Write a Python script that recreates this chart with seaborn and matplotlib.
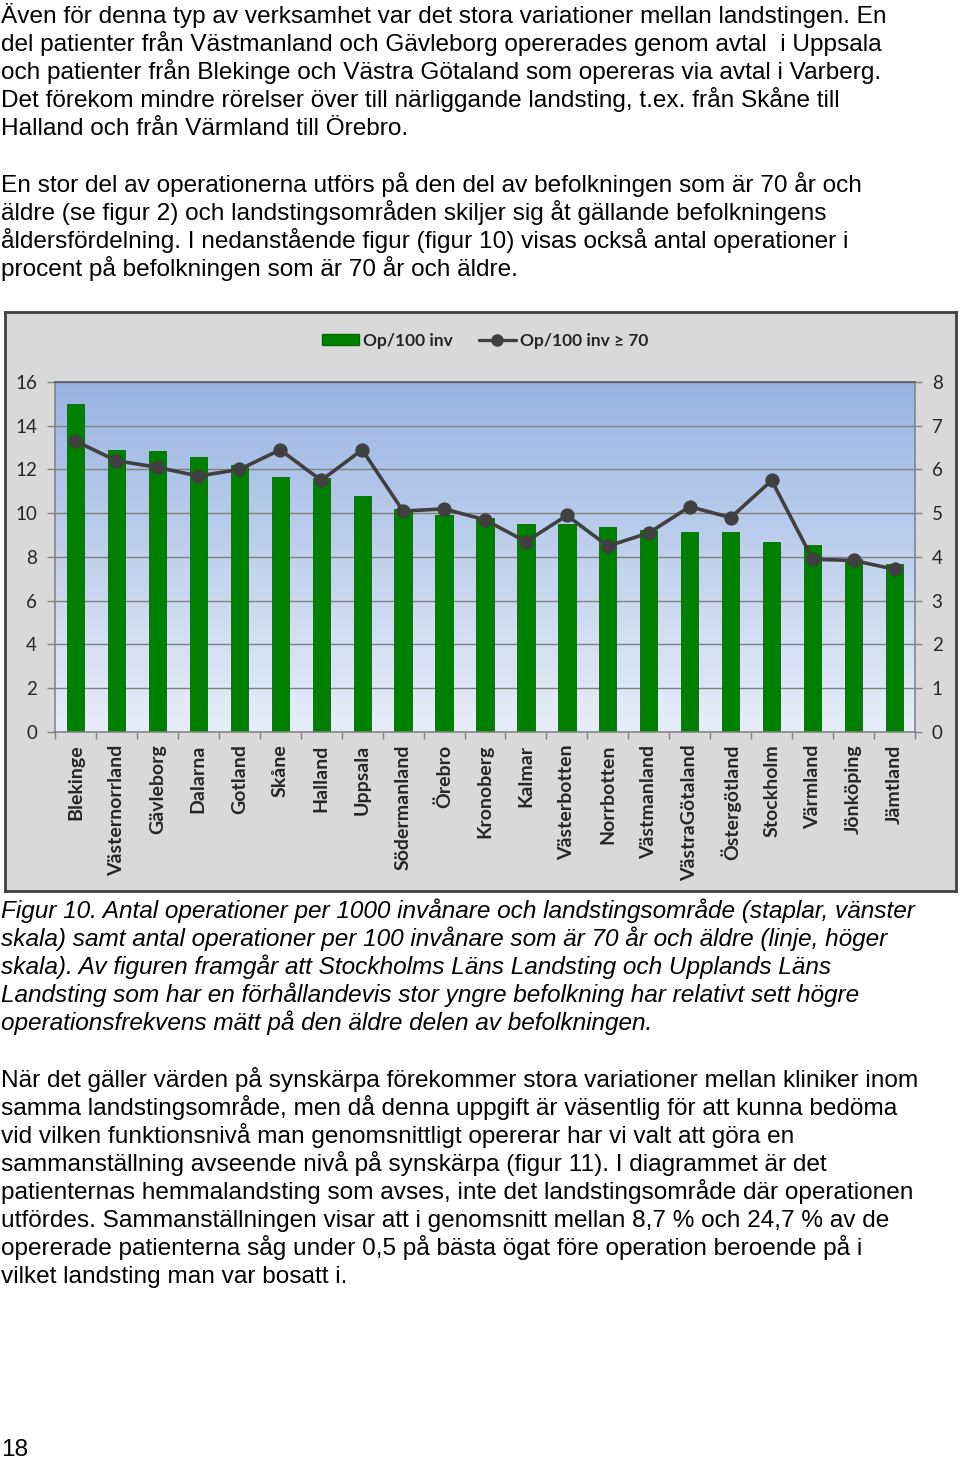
import matplotlib
matplotlib.use("Agg")
import matplotlib.pyplot as plt
import numpy as np
import seaborn as sns
from matplotlib.colors import LinearSegmentedColormap
from matplotlib.lines import Line2D
from matplotlib.patches import Patch

# data
regions = ["Blekinge", "Västernorrland", "Gävleborg", "Dalarna", "Gotland", "Skåne", "Halland",
           "Uppsala", "Södermanland", "Örebro", "Kronoberg", "Kalmar", "Västerbotten", "Norrbotten",
           "Västmanland", "VästraGötaland", "Östergötland", "Stockholm", "Värmland", "Jönköping", "Jämtland"]
op_all = [15.0, 12.9, 12.85, 12.55, 12.2, 11.65, 11.6, 10.8, 10.2, 9.9, 9.8, 9.5, 9.5, 9.35,
          9.25, 9.15, 9.15, 8.7, 8.55, 7.9, 7.7]  # Op/100 inv (left scale)
op_70 = [6.65, 6.2, 6.05, 5.85, 6.0, 6.45, 5.75, 6.45, 5.05, 5.1, 4.85, 4.35, 4.95, 4.25,
         4.55, 5.15, 4.9, 5.75, 3.95, 3.92, 3.72]  # Op/100 inv >= 70 (right scale)
left_ticks = [0, 2, 4, 6, 8, 10, 12, 14, 16]
right_ticks = [0, 1, 2, 3, 4, 5, 6, 7, 8]

p1 = ["Även för denna typ av verksamhet var det stora variationer mellan landstingen. En",
      "del patienter från Västmanland och Gävleborg opererades genom avtal  i Uppsala",
      "och patienter från Blekinge och Västra Götaland som opereras via avtal i Varberg.",
      "Det förekom mindre rörelser över till närliggande landsting, t.ex. från Skåne till",
      "Halland och från Värmland till Örebro."]
p2 = ["En stor del av operationerna utförs på den del av befolkningen som är 70 år och",
      "äldre (se figur 2) och landstingsområden skiljer sig åt gällande befolkningens",
      "åldersfördelning. I nedanstående figur (figur 10) visas också antal operationer i",
      "procent på befolkningen som är 70 år och äldre."]
caption = ["Figur 10. Antal operationer per 1000 invånare och landstingsområde (staplar, vänster",
           "skala) samt antal operationer per 100 invånare som är 70 år och äldre (linje, höger",
           "skala). Av figuren framgår att Stockholms Läns Landsting och Upplands Läns",
           "Landsting som har en förhållandevis stor yngre befolkning har relativt sett högre",
           "operationsfrekvens mätt på den äldre delen av befolkningen."]
p3 = ["När det gäller värden på synskärpa förekommer stora variationer mellan kliniker inom",
      "samma landstingsområde, men då denna uppgift är väsentlig för att kunna bedöma",
      "vid vilken funktionsnivå man genomsnittligt opererar har vi valt att göra en",
      "sammanställning avseende nivå på synskärpa (figur 11). I diagrammet är det",
      "patienternas hemmalandsting som avses, inte det landstingsområde där operationen",
      "utfördes. Sammanställningen visar att i genomsnitt mellan 8,7 % och 24,7 % av de",
      "opererade patienterna såg under 0,5 på bästa ögat före operation beroende på i",
      "vilket landsting man var bosatt i."]

sns.set_style("white")
plt.rcParams["font.family"] = ["Lato", "DejaVu Sans"]

W, H = 960, 1468
fig = plt.figure(figsize=(W / 100, H / 100), dpi=100, facecolor="white")

def px(x0, y0, x1, y1):
    return [x0 / W, 1 - y1 / H, (x1 - x0) / W, (y1 - y0) / H]

# page text
body = dict(family=["Liberation Sans", "DejaVu Sans"], fontsize=17.6, color="black", va="baseline", ha="left")
for lines, y0, style in [(p1, 23, "normal"), (p2, 192, "normal"), (caption, 918, "italic"), (p3, 1087, "normal")]:
    for i, line in enumerate(lines):
        fig.text(1 / W, 1 - (y0 + 28 * i) / H, line, style=style, **body)
fig.text(1 / W, 1 - 1456 / H, "18", **body)

# chart frame
frame = fig.add_axes(px(5, 312, 956, 891), zorder=0)
frame.set_facecolor("#D9D9D9")
frame.set_xticks([])
frame.set_yticks([])
for s in frame.spines.values():
    s.set_color("#404040")
    s.set_linewidth(2)

ax = fig.add_axes(px(55, 382, 915, 732), zorder=1)
n = len(regions)
grad = np.linspace(1, 0, 256).reshape(-1, 1)
cmap = LinearSegmentedColormap.from_list("bg", ["#E8EEF9", "#99B4E2"])
ax.imshow(grad, extent=[-0.5, n - 0.5, 0, 16], aspect="auto", cmap=cmap, zorder=0)

sns.barplot(x=regions, y=op_all, color="#008000", width=0.42, edgecolor="#006A00", linewidth=0.6,
            saturation=1, ax=ax, zorder=2)
ax.set_xlim(-0.5, n - 0.5)
ax.set_ylim(0, 16)
ax.set_yticks(left_ticks)
ax.yaxis.grid(True, color="#7F7F7F", lw=1, zorder=1)
ax.set_axisbelow(True)
for s in ax.spines.values():
    s.set_color("#808080")
    s.set_linewidth(1.1)
ax.spines["top"].set_color("#555555")
ax.tick_params(axis="y", left=True, length=6, width=1, color="#808080", pad=7, labelsize=13.5)
ax.set_xticks(range(n))
ax.set_xticklabels(regions, rotation=90, fontweight="bold", fontsize=14, va="top", ha="center")
ax.tick_params(axis="x", which="major", length=0, pad=9)
ax.set_xticks(np.arange(-0.5, n, 1), minor=True)
ax.tick_params(axis="x", which="minor", bottom=True, length=5, width=1, color="#808080")
ax.set_xlabel("")

ax2 = ax.twinx()
sns.lineplot(x=np.arange(n), y=op_70, ax=ax2, color="#404040", lw=2.6, marker="o",
             markersize=9.5, markeredgecolor="#404040", zorder=3)
ax2.set_ylim(0, 8)
ax2.set_yticks(right_ticks)
ax2.tick_params(axis="y", right=True, length=5, width=1, color="#808080", pad=7, labelsize=13.5)
for s in ax2.spines.values():
    s.set_visible(False)
ax.set_xlim(-0.5, n - 0.5)

handles = [Patch(facecolor="#008000", edgecolor="#006A00"),
           Line2D([0], [0], color="#404040", lw=2.4, marker="o", markersize=8)]
fig.legend(handles, ["Op/100 inv", "Op/100 inv ≥ 70"], loc="center", ncol=2,
           bbox_to_anchor=(485 / W, 1 - 341 / H), frameon=False,
           prop=dict(family=["Lato", "DejaVu Sans"], weight="bold", size=12.5),
           handlelength=2.13, handleheight=0.6, handletextpad=0.25, columnspacing=1.5)

fig.savefig("out.png", dpi=100)
